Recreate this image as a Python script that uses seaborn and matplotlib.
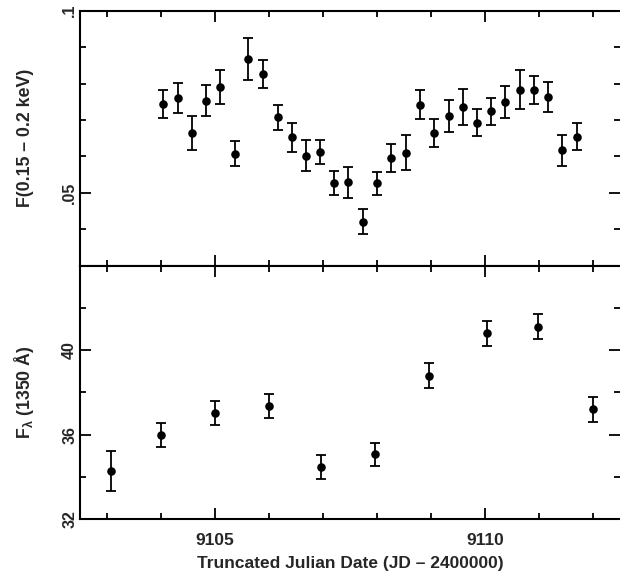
import numpy as np
import matplotlib
matplotlib.use("Agg")
import matplotlib.pyplot as plt
import seaborn as sns
from matplotlib.ticker import MultipleLocator, FixedLocator, FuncFormatter

# soft X-ray flux, 0.15-0.2 keV
xray_day = [9104.04, 9104.31, 9104.57, 9104.83, 9105.09, 9105.37, 9105.62, 9105.89,
            9106.16, 9106.42, 9106.68, 9106.94, 9107.21, 9107.47, 9107.74, 9108.00,
            9108.27, 9108.54, 9108.80, 9109.06, 9109.33, 9109.60, 9109.86, 9110.12,
            9110.38, 9110.65, 9110.91, 9111.17, 9111.44, 9111.70]
xray_flux = [0.0744, 0.0760, 0.0665, 0.0753, 0.0791, 0.0608, 0.0868, 0.0826,
             0.0707, 0.0652, 0.0602, 0.0612, 0.0526, 0.0529, 0.0421, 0.0526,
             0.0595, 0.0610, 0.0742, 0.0665, 0.0711, 0.0735, 0.0692, 0.0724,
             0.0749, 0.0783, 0.0782, 0.0762, 0.0617, 0.0654]
xray_err = [0.0039, 0.0041, 0.0047, 0.0042, 0.0047, 0.0035, 0.0058, 0.0039,
            0.0035, 0.0040, 0.0042, 0.0034, 0.0033, 0.0042, 0.0034, 0.0032,
            0.0038, 0.0048, 0.0040, 0.0038, 0.0043, 0.0049, 0.0037, 0.0037,
            0.0043, 0.0054, 0.0039, 0.0041, 0.0042, 0.0037]

# UV continuum flux at 1350 A
uv_day = [9103.07, 9104.01, 9105.01, 9106.01, 9106.96, 9107.97, 9108.97, 9110.05, 9110.98, 9112.00]
uv_flux = [34.28, 36.00, 37.01, 37.37, 34.47, 35.07, 38.79, 40.80, 41.11, 37.20]
uv_err = [0.96, 0.56, 0.57, 0.58, 0.56, 0.56, 0.59, 0.60, 0.60, 0.58]

sns.set_style("ticks")
plt.rcParams["font.family"] = ["Liberation Sans", "DejaVu Sans"]
plt.rcParams["font.weight"] = "bold"
plt.rcParams["mathtext.default"] = "regular"

fig = plt.figure(figsize=(6.2, 5.78), dpi=100)
ax1 = fig.add_axes([0.129, 0.5403, 0.8705, 0.4412])
ax2 = fig.add_axes([0.129, 0.1016, 0.8705, 0.4387], sharex=ax1)

for ax, x, y, e in [(ax1, xray_day, xray_flux, xray_err), (ax2, uv_day, uv_flux, uv_err)]:
    ax.errorbar(x, y, yerr=e, fmt="none", ecolor="black", elinewidth=1.3,
                capsize=3.5, capthick=1.3)
    sns.scatterplot(x=x, y=y, ax=ax, color="black", s=38, edgecolor="black",
                    linewidth=0, zorder=3)
    for side in ["left", "top", "bottom"]:
        ax.spines[side].set_linewidth(1.5)
        ax.spines[side].set_color("black")
    ax.spines["right"].set_visible(False)
    ax.tick_params(which="both", direction="in", top=True, right=True,
                   color="black", width=1.3)
    ax.tick_params(which="major", length=8)
    ax.tick_params(which="minor", length=4.5)
    ax.tick_params(axis="x", labelsize=12.5, pad=10)
    ax.tick_params(axis="y", labelsize=11.5, pad=2)

ax1.set_xlim(9102.5, 9112.5)
ax1.xaxis.set_major_locator(FixedLocator([9105, 9110]))
ax1.xaxis.set_minor_locator(MultipleLocator(1))
ax1.tick_params(axis="x", labelbottom=False)

ax1.set_ylim(0.03, 0.1)
ax1.yaxis.set_major_locator(FixedLocator([0.05, 0.1]))
ax1.yaxis.set_minor_locator(MultipleLocator(0.01))
ax1.yaxis.set_major_formatter(FuncFormatter(lambda v, p: ("%g" % v).lstrip("0")))
ax1.set_ylabel("F(0.15 – 0.2 keV)", fontsize=12.8, fontweight="bold", labelpad=20)

ax2.set_ylim(32, 44)
ax2.yaxis.set_major_locator(FixedLocator([32, 36, 40]))
ax2.yaxis.set_minor_locator(MultipleLocator(2))
ax2.set_ylabel(r"F$_{\lambda}$ (1350 Å)", fontsize=12.8, fontweight="bold", labelpad=19)
ax2.set_xlabel("Truncated Julian Date (JD – 2400000)", fontsize=12.5,
               fontweight="bold", labelpad=6)

for ax in (ax1, ax2):
    for lab in ax.get_yticklabels() + ax.get_xticklabels():
        lab.set_fontweight("bold")
    for lab in ax.get_yticklabels():
        lab.set_rotation(90)
        lab.set_va("center")

fig.savefig("out.png", dpi=100)
